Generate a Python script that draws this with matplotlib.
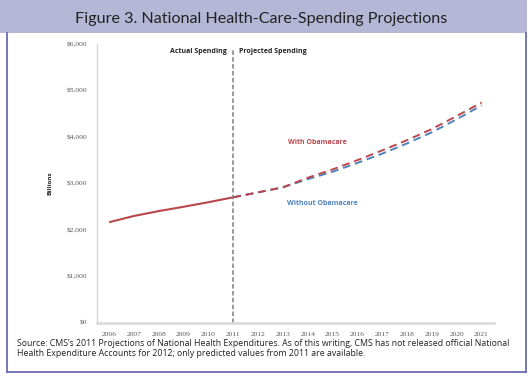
import matplotlib
matplotlib.use("Agg")
import matplotlib.pyplot as plt
from matplotlib.patches import Rectangle
from matplotlib.lines import Line2D

# data (billions of dollars)
actual_years = [2006, 2007, 2008, 2009, 2010, 2011]
actual_spend = [2163, 2298, 2403, 2496, 2594, 2700]

proj_years = [2011, 2012, 2013, 2014, 2015, 2016, 2017, 2018, 2019, 2020, 2021]
with_aca = [2700, 2806, 2915, 3120, 3300, 3500, 3710, 3930, 4170, 4450, 4740]
without_aca = [2700, 2806, 2915, 3090, 3250, 3440, 3640, 3860, 4100, 4380, 4680]

years = list(range(2006, 2022))
y_ticks = [0, 1000, 2000, 3000, 4000, 5000, 6000]
y_labels = ["$0", "$1,000", "$2,000", "$3,000", "$4,000", "$5,000", "$6,000"]

RED = "#b9474b"
BLUE = "#4f81bd"
PURPLE = "#6b6bb3"
BAND = "#b6b7d6"
W, H = 531, 380
LABEL_FONT = "Open Sans"

fig = plt.figure(figsize=(W / 100, H / 100), dpi=100, facecolor="white")

# title band and frame
fig.patches.append(Rectangle((0.0, 1 - 33 / H), 527 / W, 33 / H, transform=fig.transFigure,
                             facecolor=BAND, edgecolor="none", zorder=0))
fig.add_artist(Line2D([7 / W, 7 / W], [1 - 33 / H, 1 - 372 / H], transform=fig.transFigure,
                      color=PURPLE, lw=1.3))
fig.add_artist(Line2D([526 / W, 526 / W], [1 - 33 / H, 1 - 372 / H], transform=fig.transFigure,
                      color=PURPLE, lw=1.3))
fig.add_artist(Line2D([7 / W, 526 / W], [1 - 372 / H, 1 - 372 / H], transform=fig.transFigure,
                      color=PURPLE, lw=1.3))
fig.text(261 / W, 1 - 19 / H, "Figure 3. National Health-Care-Spending Projections",
         ha="center", va="center", fontsize=11.6, family="Lato", color="#222222")

ax = fig.add_axes([96.7 / W, 1 - 322.7 / H, (494 - 96.7) / W, (322.7 - 44) / H])
ax.set_facecolor("white")

ax.plot(actual_years, actual_spend, color=RED, lw=1.5, solid_capstyle="butt")
ax.plot(proj_years, without_aca, color=BLUE, lw=1.4, dashes=(4, 2.5))
ax.plot(proj_years, with_aca, color=RED, lw=1.4, dashes=(4, 2.5))
ax.axvline(2011, color="#7f7f7f", lw=1.1, dashes=(3, 1.5), ymax=0.985)

ax.set_xlim(2005.5, 2021.5)
ax.set_ylim(0, 6000)
ax.set_xticks(years)
ax.set_xticklabels([str(y) for y in years])
ax.set_yticks(y_ticks)
ax.set_yticklabels(y_labels)
ax.tick_params(length=0, labelsize=5.4, labelcolor="#595959", pad=7)
for lab in ax.get_xticklabels() + ax.get_yticklabels():
    lab.set_family("Liberation Serif")
for side in ["top", "right"]:
    ax.spines[side].set_visible(False)
ax.spines["left"].set_color("#d9d9d9")
ax.spines["left"].set_linewidth(1.0)
ax.spines["bottom"].set_color("#d9d9d9")
ax.spines["bottom"].set_linewidth(1.8)

ax.text(2010.75, 5840, "Actual Spending", ha="right", va="center", fontsize=5.0,
        fontweight="bold", family=LABEL_FONT, color="#222222")
ax.text(2011.25, 5840, "Projected Spending", ha="left", va="center", fontsize=5.0,
        fontweight="bold", family=LABEL_FONT, color="#222222")
ax.text(2014.4, 3890, "With Obamacare", ha="center", va="center", fontsize=5.0,
        fontweight="bold", family=LABEL_FONT, color=RED)
ax.text(2014.6, 2570, "Without Obamacare", ha="center", va="center", fontsize=5.0,
        fontweight="bold", family=LABEL_FONT, color=BLUE)
ax.set_ylabel("Billions", fontsize=4.6, fontweight="bold", family=LABEL_FONT, color="#222222",
              labelpad=10)

fig.text(17 / W, 1 - 344 / H,
         "Source: CMS\u2019s 2011 Projections of National Health Expenditures. As of this writing, CMS has not released official National",
         ha="left", va="center", fontsize=6.3, family="Open Sans", color="#222222")
fig.text(17 / W, 1 - 353.5 / H,
         "Health Expenditure Accounts for 2012; only predicted values from 2011 are available.",
         ha="left", va="center", fontsize=6.3, family="Open Sans", color="#222222")

fig.savefig("out.png", dpi=100, facecolor="white")
